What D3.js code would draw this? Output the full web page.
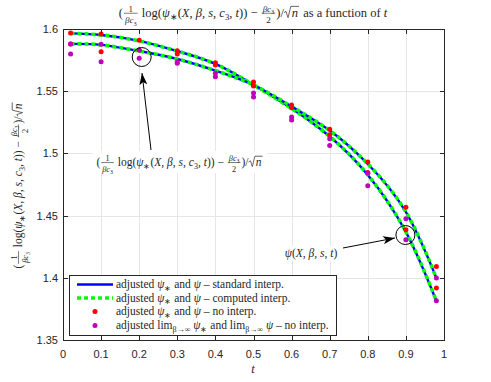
<!DOCTYPE html>
<meta charset="utf-8">
<script src="https://d3js.org/d3.v7.min.js"></script>
<style>
  * {margin: 0; padding: 0;}
  body {background: #fff;}
  .tick-lbl {font-family: "Liberation Sans", Arial, sans-serif; font-size: 11px; fill: #262626;}
  .m {font-family: "Liberation Serif", "Times New Roman", serif; fill: #262626; white-space: pre;}
</style>
<body>
<div id="chart"></div>
<script>
// t values where the curves / points were computed
var tVals = [0.02, 0.1, 0.2, 0.3, 0.4, 0.5, 0.6, 0.7, 0.8, 0.9, 0.98];

// adjusted psi (starts higher, ends lower)
var psiCurve     = [1.5965, 1.5952, 1.5904, 1.5822, 1.5719, 1.5550, 1.5361, 1.5136, 1.4827, 1.4368, 1.3814];
// adjusted psi_* (starts lower, ends higher)
var psiStarCurve = [1.5880, 1.5872, 1.5823, 1.5759, 1.5666, 1.5550, 1.5377, 1.5184, 1.4915, 1.4529, 1.3999];

// no interp. points (red)
var redPsi      = [1.5968, 1.5960, 1.5909, 1.5826, 1.5729, 1.5574, 1.5366, 1.5149, 1.4846, 1.4386, 1.3918];
var redPsiStar  = [1.5880, 1.5818, 1.5831, 1.5799, 1.5711, 1.5542, 1.5390, 1.5195, 1.4930, 1.4568, 1.4091];
// beta -> infinity limits (magenta)
var limPsi      = [1.5880, 1.5877, 1.5831, 1.5737, 1.5644, 1.5486, 1.5269, 1.5063, 1.4739, 1.4306, 1.3816];
var limPsiStar  = [1.5799, 1.5737, 1.5765, 1.5725, 1.5617, 1.5454, 1.5293, 1.5117, 1.4841, 1.4474, 1.3998];

var xTicks = [0, 0.1, 0.2, 0.3, 0.4, 0.5, 0.6, 0.7, 0.8, 0.9, 1];
var yTicks = [1.35, 1.4, 1.45, 1.5, 1.55, 1.6];

var W = 491, H = 382;
var x = d3.scaleLinear().domain([0, 1]).range([63, 444]);
var y = d3.scaleLinear().domain([1.35, 1.6]).range([340, 29]);

var svg = d3.select("#chart").append("svg")
  .attr("width", W).attr("height", H);

svg.append("defs").append("marker")
  .attr("id", "ah")
  .attr("viewBox", "0 0 12 8")
  .attr("refX", 12).attr("refY", 4)
  .attr("markerWidth", 12).attr("markerHeight", 8)
  .attr("markerUnits", "userSpaceOnUse")
  .attr("orient", "auto")
  .append("path").attr("d", "M0,0 L12,4 L0,8 L3,4 Z").attr("fill", "#000");

// ---- math text helper: lays runs out left to right ----
function it(s) { return {t: s, i: true}; }
function sb(s) { return {t: s, s: true}; }

function runsText(g, runs, size, xpos, ypos) {
  var txt = g.append("text").attr("class", "m").attr("x", xpos).attr("y", ypos)
    .style("font-size", size + "px");
  var low = false;
  runs.forEach(function(r) {
    if (typeof r === "string") r = {t: r};
    var ts = txt.append("tspan").text(r.t);
    if (r.i) ts.style("font-style", "italic");
    if (r.s) {
      ts.style("font-size", (size * 0.7) + "px");
      if (!low) { ts.attr("dy", size * 0.25); low = true; }
    } else if (low) {
      ts.attr("dy", -size * 0.25); low = false;
    }
  });
  return txt;
}

function drawMath(parent, parts, size, cx, cy, rotate) {
  var outer = parent.append("g")
    .attr("transform", "translate(" + cx + "," + cy + ")" + (rotate ? " rotate(" + rotate + ")" : ""));
  var g = outer.append("g");
  var px = 0;
  parts.forEach(function(p) {
    if (p.frac) {
      var fs = size * 0.72;
      var n = runsText(g, p.frac[0], fs, 0, -size * 0.42);
      var d = runsText(g, p.frac[1], fs, 0, size * 0.5);
      var wn = n.node().getComputedTextLength(), wd = d.node().getComputedTextLength();
      var w = Math.max(wn, wd) + 2;
      n.attr("x", px + 1 + (w - wn) / 2);
      d.attr("x", px + 1 + (w - wd) / 2);
      g.append("line").attr("x1", px + 1).attr("x2", px + 1 + w)
        .attr("y1", -size * 0.3).attr("y2", -size * 0.3)
        .attr("stroke", "#262626").attr("stroke-width", 0.6);
      px += w + 2;
    } else if (p.sqrt) {
      var rw = size * 0.55;
      var t = runsText(g, p.sqrt, size, px + rw + 1, 0);
      var tw = t.node().getComputedTextLength();
      g.append("path")
        .attr("d", "M" + px + "," + (-size * 0.35) + " L" + (px + rw * 0.3) + "," + (-size * 0.45) +
          " L" + (px + rw * 0.6) + "," + (size * 0.05) + " L" + (px + rw) + "," + (-size * 0.85) +
          " L" + (px + rw + tw + 2) + "," + (-size * 0.85))
        .attr("fill", "none").attr("stroke", "#262626").attr("stroke-width", 0.7);
      px += rw + tw + 3;
    } else {
      var tt = runsText(g, p.runs, size, px, 0);
      px += tt.node().getComputedTextLength();
    }
  });
  g.attr("transform", "translate(" + (-px / 2) + ",0)");
  return {g: outer, width: px};
}

var baseExpr = [
  {runs: ["("]},
  {frac: [["1"], [it("βc"), sb("3")]]},
  {runs: [" log(", it("ψ"), sb("∗"), "(", it("X"), ", ", it("β"), ", ", it("s"), ", ", it("c"), sb("3"), ", ", it("t"), ")) − "]},
  {frac: [[it("βc"), sb("3")], ["2"]]},
  {runs: [")/"]},
  {sqrt: [it("n")]}
];

// ---- grid ----
var grid = svg.append("g");
grid.selectAll(".gx").data(xTicks).enter().append("line")
  .attr("x1", function(d) { return Math.round(x(d)) + 0.5; })
  .attr("x2", function(d) { return Math.round(x(d)) + 0.5; })
  .attr("y1", y(1.6)).attr("y2", y(1.35))
  .attr("stroke", "#e6e6e6").attr("stroke-width", 1);
grid.selectAll(".gy").data(yTicks).enter().append("line")
  .attr("y1", function(d) { return Math.round(y(d)) + 0.5; })
  .attr("y2", function(d) { return Math.round(y(d)) + 0.5; })
  .attr("x1", x(0)).attr("x2", x(1))
  .attr("stroke", "#e6e6e6").attr("stroke-width", 1);

// ---- curves ----
var lineA = d3.line().x(function(d, i) { return x(tVals[i]); }).y(function(d) { return y(d); }).curve(d3.curveNatural);
[psiCurve, psiStarCurve].forEach(function(c) {
  svg.append("path").datum(c).attr("d", lineA)
    .attr("fill", "none").attr("stroke", "#0000ff").attr("stroke-width", 2.4);
  svg.append("path").datum(c).attr("d", lineA)
    .attr("fill", "none").attr("stroke", "#00ff00").attr("stroke-width", 3.6)
    .attr("stroke-dasharray", "4,3");
});

// ---- points ----
[redPsi, redPsiStar].forEach(function(arr) {
  svg.append("g").selectAll("circle").data(arr).enter().append("circle")
    .attr("cx", function(d, i) { return x(tVals[i]); })
    .attr("cy", function(d) { return y(d); })
    .attr("r", 2.5).attr("fill", "#ff0000");
});
[limPsi, limPsiStar].forEach(function(arr) {
  svg.append("g").selectAll("circle").data(arr).enter().append("circle")
    .attr("cx", function(d, i) { return x(tVals[i]); })
    .attr("cy", function(d) { return y(d); })
    .attr("r", 2.5).attr("fill", "#bf00bf");
});

// ---- axes box + ticks ----
var axG = svg.append("g");
axG.append("rect").attr("x", 63.5).attr("y", 29.5).attr("width", 381).attr("height", 311)
  .attr("fill", "none").attr("stroke", "#262626").attr("stroke-width", 1);
xTicks.forEach(function(d) {
  var px = Math.round(x(d)) + 0.5;
  axG.append("line").attr("x1", px).attr("x2", px).attr("y1", 340).attr("y2", 336).attr("stroke", "#262626");
  axG.append("line").attr("x1", px).attr("x2", px).attr("y1", 30).attr("y2", 34).attr("stroke", "#262626");
  axG.append("text").attr("class", "tick-lbl").attr("x", x(d)).attr("y", 358)
    .attr("text-anchor", "middle").text(d3.format("")(d));
});
yTicks.forEach(function(d) {
  var py = Math.round(y(d)) + 0.5;
  axG.append("line").attr("x1", 64).attr("x2", 68).attr("y1", py).attr("y2", py).attr("stroke", "#262626");
  axG.append("line").attr("x1", 444).attr("x2", 440).attr("y1", py).attr("y2", py).attr("stroke", "#262626");
  axG.append("text").attr("class", "tick-lbl").attr("x", 58).attr("y", y(d) + 4)
    .attr("text-anchor", "end").text(d3.format("")(d));
});

// ---- annotations ----
function ring(cx, cy) {
  svg.append("circle").attr("cx", cx).attr("cy", cy).attr("r", 9.5)
    .attr("fill", "none").attr("stroke", "#000").attr("stroke-width", 1);
}
ring(x(0.2) + 2.5, 57);
ring(x(0.9) - 0.5, 235);

svg.append("line").attr("x1", 151).attr("y1", 150).attr("x2", 142).attr("y2", 73)
  .attr("stroke", "#000").attr("stroke-width", 1).attr("marker-end", "url(#ah)");
svg.append("line").attr("x1", 343).attr("y1", 248).attr("x2", 395).attr("y2", 238)
  .attr("stroke", "#000").attr("stroke-width", 1).attr("marker-end", "url(#ah)");

var bg1 = svg.append("rect").attr("fill", "#fff");
var a1 = drawMath(svg, baseExpr, 11.5, 180, 166);
bg1.attr("x", 180 - a1.width / 2 - 3).attr("y", 151).attr("width", a1.width + 6).attr("height", 22);

var bg2 = svg.append("rect").attr("fill", "#fff");
var a2 = drawMath(svg, [{runs: [it("ψ"), "(", it("X"), ", ", it("β"), ", ", it("s"), ", ", it("t"), ")"]}], 11.5, 311, 257);
bg2.attr("x", 311 - a2.width / 2 - 3).attr("y", 246).attr("width", a2.width + 6).attr("height", 15);

// ---- title, labels ----
drawMath(svg, baseExpr.concat([{runs: [" as a function of ", it("t")]}]), 12.5, 253, 17);
drawMath(svg, baseExpr, 11.5, 22, 185, -90);
drawMath(svg, [{runs: [it("t")]}], 12.5, 253, 373);

// ---- legend ----
var lg = svg.append("g");
lg.append("rect").attr("x", 69.5).attr("y", 275.5).attr("width", 267).attr("height", 60)
  .attr("fill", "#fff").attr("stroke", "#262626").attr("stroke-width", 1);
var rowY = [284.5, 298, 311.5, 325.5];
lg.append("line").attr("x1", 77).attr("x2", 113).attr("y1", rowY[0]).attr("y2", rowY[0])
  .attr("stroke", "#0000ff").attr("stroke-width", 2.4);
lg.append("line").attr("x1", 77).attr("x2", 113).attr("y1", rowY[1]).attr("y2", rowY[1])
  .attr("stroke", "#00ff00").attr("stroke-width", 3.6).attr("stroke-dasharray", "4,3");
lg.append("circle").attr("cx", 95).attr("cy", rowY[2]).attr("r", 2.5).attr("fill", "#ff0000");
lg.append("circle").attr("cx", 95).attr("cy", rowY[3]).attr("r", 2.5).attr("fill", "#bf00bf");

var legendRuns = [
  ["adjusted ", it("ψ"), sb("∗"), " and ", it("ψ"), " – standard interp."],
  ["adjusted ", it("ψ"), sb("∗"), " and ", it("ψ"), " – computed interp."],
  ["adjusted ", it("ψ"), sb("∗"), " and ", it("ψ"), " – no interp."],
  ["adjusted lim", sb("β→∞"), " ", it("ψ"), sb("∗"), " and lim", sb("β→∞"), " ", it("ψ"), " – no interp."]
];
legendRuns.forEach(function(r, i) {
  runsText(lg, r, 11.5, 116, rowY[i] + 3.5);
});
</script>
</body>
